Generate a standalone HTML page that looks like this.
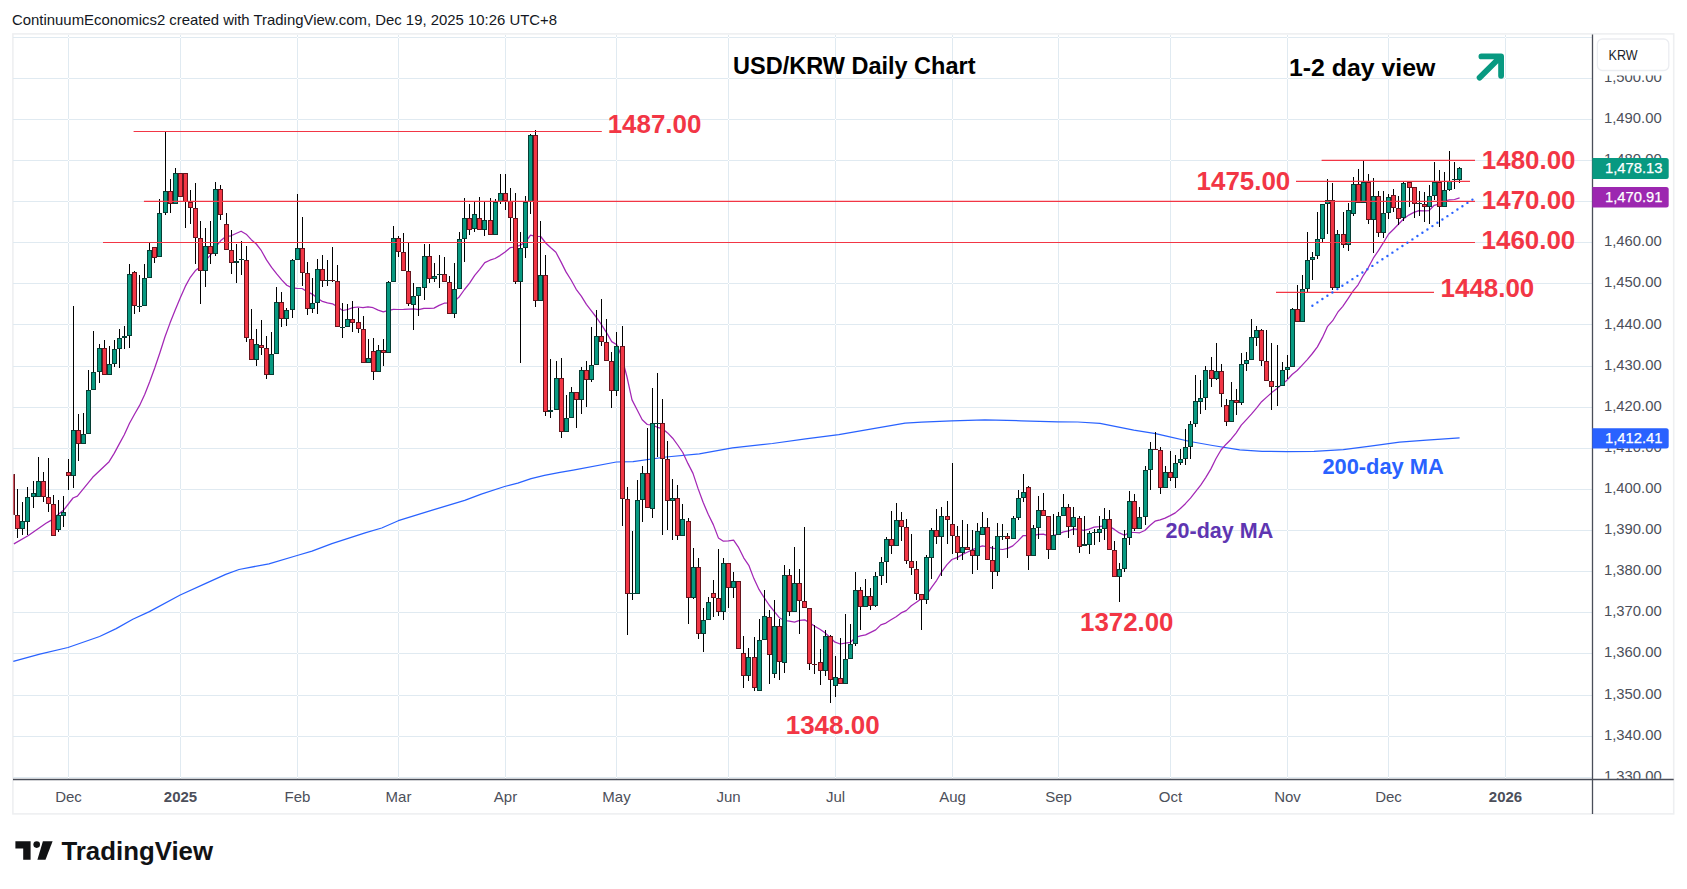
<!DOCTYPE html><html><head><meta charset="utf-8"><title>USD/KRW Daily Chart</title><style>html,body{margin:0;padding:0;background:#fff}body{width:1687px;height:889px;overflow:hidden}svg{display:block}text{font-family:"Liberation Sans",sans-serif}.b{font-weight:bold}</style></head><body>
<svg width="1687" height="889" viewBox="0 0 1687 889">
<rect width="1687" height="889" fill="#fff"/>
<text x="12" y="25" font-size="15" fill="#131722" textLength="545" lengthAdjust="spacingAndGlyphs">ContinuumEconomics2 created with TradingView.com, Dec 19, 2025 10:26 UTC+8</text>
<rect x="12.9" y="33.9" width="1660.8" height="780.0" fill="#fff" stroke="#eeeff1" stroke-width="1.6"/>
<path d="M13 777h1579v1h-1579zM13 736h1579v1h-1579zM13 695h1579v1h-1579zM13 653h1579v1h-1579zM13 612h1579v1h-1579zM13 571h1579v1h-1579zM13 530h1579v1h-1579zM13 489h1579v1h-1579zM13 448h1579v1h-1579zM13 407h1579v1h-1579zM13 366h1579v1h-1579zM13 324h1579v1h-1579zM13 283h1579v1h-1579zM13 242h1579v1h-1579zM13 201h1579v1h-1579zM13 160h1579v1h-1579zM13 119h1579v1h-1579zM13 78h1579v1h-1579zM13 37h1579v1h-1579zM68 35v744h1v-744zM180 35v744h1v-744zM297 35v744h1v-744zM398 35v744h1v-744zM505 35v744h1v-744zM616 35v744h1v-744zM728 35v744h1v-744zM835 35v744h1v-744zM952 35v744h1v-744zM1058 35v744h1v-744zM1170 35v744h1v-744zM1287 35v744h1v-744zM1388 35v744h1v-744zM1505 35v744h1v-744z" fill="#e0eaf1"/>
<polyline points="13.3,661.4 39.8,654.1 68.0,647.5 99.6,636.5 116.2,628.6 132.8,619.3 149.4,611.6 180.2,595.0 205.8,583.4 225.7,574.4 239.0,569.5 268.9,563.8 297.1,555.5 312.0,551.2 331.9,543.6 365.1,532.9 381.7,528.0 398.3,520.7 431.5,510.4 464.7,500.4 481.3,494.1 504.6,486.5 517.8,483.2 531.1,478.6 544.4,475.3 560.0,472.3 573.2,470.1 616.3,462.0 633.0,461.7 666.1,457.0 699.3,453.8 732.5,447.8 772.4,443.5 805.6,438.8 838.8,434.6 871.9,428.8 905.1,423.2 921.7,422.2 951.6,420.8 984.8,419.8 1021.3,420.8 1057.8,421.8 1077.7,422.0 1100.0,423.4 1133.8,430.2 1155.6,433.7 1167.6,436.3 1190.1,441.5 1212.6,445.5 1239.7,449.8 1262.2,451.3 1287.0,451.6 1314.0,451.4 1343.3,449.6 1370.3,446.2 1399.6,442.1 1426.6,440.1 1459.6,437.8" fill="none" stroke="#2962ff" stroke-width="1.25" stroke-linejoin="round"/>
<polyline points="13.9,543.9 28.0,535.8 46.0,523.2 51.4,520.1 64.0,509.7 73.0,498.0 77.4,496.2 92.7,477.3 109.1,461.7 114.2,453.4 119.3,443.9 124.3,434.7 129.4,423.5 134.5,414.2 139.6,405.4 144.7,394.5 149.7,381.8 154.8,367.8 159.9,352.7 165.0,336.7 170.0,323.1 175.1,310.3 180.2,298.0 185.3,286.4 190.3,277.3 195.4,270.6 200.5,266.7 205.6,260.3 210.7,254.8 215.7,246.8 220.8,240.6 225.9,236.4 231.0,235.8 236.0,233.5 241.1,231.2 246.2,234.2 251.3,239.7 256.3,244.0 261.4,250.7 266.5,259.9 271.6,267.4 276.7,273.9 281.7,279.9 286.8,285.3 291.9,287.9 297.0,288.4 302.0,288.5 307.1,291.6 312.2,294.1 317.3,298.1 322.4,301.4 327.4,302.9 332.5,303.8 337.6,307.1 342.7,310.5 347.7,309.5 352.8,307.7 357.9,307.0 363.0,307.7 368.0,306.9 373.1,307.7 378.2,310.1 383.3,311.8 388.4,310.4 393.4,309.3 398.5,309.5 403.6,309.4 408.7,309.1 413.7,308.8 418.8,309.7 423.9,308.4 429.0,308.4 434.0,308.1 439.1,305.4 444.2,303.2 449.3,302.9 454.4,301.3 459.4,296.7 464.5,289.5 469.6,283.1 474.7,275.3 479.7,269.3 484.8,262.6 489.9,260.2 495.0,258.5 500.0,255.6 505.1,252.0 510.2,247.7 515.3,247.0 520.4,245.1 525.4,242.3 530.5,235.1 535.6,236.4 540.7,236.5 545.7,243.0 550.8,247.8 555.9,252.3 561.0,261.9 566.0,271.9 571.1,280.0 576.2,289.3 581.3,296.2 586.4,304.3 591.4,310.8 596.5,317.5 601.6,324.9 606.7,332.9 611.7,341.6 616.8,344.8 621.9,357.3 627.0,377.0 632.0,399.9 637.1,409.8 642.2,419.7 647.3,424.5 652.4,425.1 657.4,427.3 662.5,428.7 667.6,432.9 672.7,438.2 677.7,445.0 682.8,452.5 687.9,463.4 693.0,473.4 698.0,488.4 703.1,502.3 708.2,514.3 713.3,524.6 718.4,537.9 723.4,541.2 728.5,540.8 733.6,540.2 738.7,547.7 743.7,557.8 748.8,565.3 753.9,578.6 759.0,589.4 764.0,597.3 769.1,605.0 774.2,611.4 779.3,617.7 784.4,620.5 789.4,621.2 794.5,622.1 799.6,620.4 804.7,619.8 809.7,622.9 814.8,626.2 819.9,629.2 825.0,632.8 830.0,637.5 835.1,642.2 840.2,644.0 845.3,643.1 850.4,642.4 855.4,637.5 860.5,635.9 865.6,634.9 870.7,632.4 875.7,629.9 880.8,624.9 885.9,623.1 891.0,619.8 896.1,616.7 901.1,612.9 906.2,610.6 911.3,605.8 916.4,602.3 921.4,598.7 926.5,594.8 931.6,587.3 936.7,580.3 941.7,571.9 946.8,564.9 951.9,559.5 957.0,557.6 962.1,554.6 967.1,552.3 972.2,549.9 977.3,547.6 982.4,545.9 987.4,546.9 992.5,548.2 997.6,549.0 1002.7,549.5 1007.7,548.4 1012.8,545.9 1017.9,541.1 1023.0,535.7 1028.1,535.7 1033.1,535.6 1038.2,534.3 1043.3,534.2 1048.4,535.8 1053.4,535.7 1058.5,533.9 1063.6,531.9 1068.7,530.8 1073.7,528.8 1078.8,529.6 1083.9,530.4 1089.0,529.1 1094.1,527.1 1099.1,526.7 1104.2,525.9 1109.3,526.4 1114.4,529.4 1119.4,532.9 1124.5,535.2 1129.6,532.4 1134.7,532.5 1139.7,532.8 1144.8,530.5 1149.9,525.5 1155.0,521.2 1160.1,519.8 1165.1,518.1 1170.2,515.6 1175.3,512.9 1180.4,508.5 1185.4,503.7 1190.5,498.2 1195.6,491.7 1200.7,485.1 1205.7,477.6 1210.8,469.1 1215.9,458.8 1221.0,450.0 1226.1,444.2 1231.1,439.2 1236.2,432.8 1241.3,425.2 1246.4,419.6 1251.4,414.1 1256.5,408.1 1261.6,401.7 1266.7,397.1 1271.7,392.6 1276.8,388.7 1281.9,384.2 1287.0,380.2 1292.1,374.5 1297.1,370.5 1302.2,365.1 1307.3,359.6 1312.4,353.5 1317.4,346.9 1322.5,337.4 1327.6,326.3 1332.7,320.7 1337.8,312.2 1342.8,306.3 1347.9,298.8 1353.0,291.1 1358.1,284.8 1363.1,275.8 1368.2,267.8 1373.3,258.2 1378.4,250.6 1383.4,242.7 1388.5,234.2 1393.6,229.2 1398.7,224.0 1403.8,218.7 1408.8,215.1 1413.9,212.4 1419.0,210.6 1424.1,210.8 1429.1,210.6 1434.2,205.3 1439.3,204.0 1444.4,201.2 1449.4,199.8 1454.5,199.5 1459.6,197.8" fill="none" stroke="#a327b5" stroke-width="1.25" stroke-linejoin="round"/>
<clipPath id="cp"><rect x="13.5" y="34" width="1579" height="745"/></clipPath>
<g clip-path="url(#cp)" shape-rendering="crispEdges">
<path d="M12 474h1v41h-1zM17 489h1v49h-1zM22 502h1v33h-1zM27 487h1v48h-1zM33 481h1v27h-1zM38 457h1v40h-1zM43 472h1v30h-1zM48 458h1v54h-1zM53 495h1v41h-1zM58 500h1v32h-1zM63 496h1v31h-1zM68 459h1v31h-1zM73 306h1v182h-1zM78 414h1v47h-1zM83 413h1v31h-1zM88 370h1v64h-1zM93 331h1v59h-1zM99 344h1v39h-1zM104 340h1v35h-1zM109 346h1v29h-1zM114 340h1v27h-1zM119 329h1v39h-1zM124 326h1v23h-1zM129 264h1v84h-1zM134 271h1v43h-1zM139 275h1v37h-1zM144 264h1v42h-1zM149 243h1v35h-1zM154 247h1v16h-1zM159 199h1v58h-1zM165 131h1v84h-1zM170 179h1v34h-1zM175 168h1v36h-1zM180 173h1v24h-1zM185 173h1v55h-1zM190 190h1v34h-1zM195 183h1v81h-1zM200 221h1v83h-1zM205 228h1v59h-1zM210 221h1v43h-1zM215 182h1v74h-1zM220 185h1v35h-1zM226 213h1v37h-1zM231 230h1v44h-1zM236 244h1v39h-1zM241 241h1v34h-1zM246 246h1v96h-1zM251 309h1v51h-1zM256 329h1v37h-1zM261 320h1v35h-1zM266 336h1v43h-1zM271 332h1v43h-1zM276 287h1v67h-1zM281 292h1v35h-1zM286 308h1v18h-1zM292 259h1v59h-1zM297 194h1v66h-1zM302 217h1v69h-1zM307 262h1v53h-1zM312 278h1v35h-1zM317 259h1v55h-1zM322 255h1v32h-1zM327 260h1v26h-1zM332 247h1v35h-1zM337 265h1v62h-1zM342 303h1v35h-1zM347 304h1v23h-1zM352 301h1v31h-1zM358 308h1v25h-1zM363 316h1v47h-1zM368 339h1v24h-1zM373 338h1v42h-1zM378 345h1v27h-1zM383 339h1v27h-1zM388 281h1v72h-1zM393 226h1v56h-1zM398 236h1v21h-1zM403 233h1v38h-1zM408 243h1v63h-1zM413 283h1v47h-1zM418 287h1v29h-1zM424 244h1v56h-1zM429 244h1v39h-1zM434 263h1v19h-1zM439 255h1v33h-1zM444 257h1v25h-1zM449 276h1v38h-1zM454 263h1v55h-1zM459 232h1v57h-1zM464 198h1v64h-1zM469 204h1v31h-1zM474 202h1v30h-1zM479 197h1v33h-1zM484 202h1v34h-1zM490 198h1v37h-1zM495 199h1v36h-1zM500 174h1v30h-1zM505 174h1v36h-1zM510 188h1v53h-1zM515 193h1v91h-1zM520 232h1v131h-1zM525 196h1v62h-1zM530 134h1v80h-1zM535 130h1v177h-1zM540 221h1v80h-1zM545 255h1v161h-1zM550 359h1v59h-1zM556 361h1v49h-1zM561 358h1v80h-1zM566 395h1v37h-1zM571 387h1v31h-1zM576 392h1v36h-1zM581 367h1v47h-1zM586 361h1v46h-1zM591 327h1v55h-1zM596 310h1v55h-1zM601 299h1v47h-1zM606 319h1v42h-1zM611 352h1v56h-1zM616 332h1v64h-1zM622 326h1v200h-1zM627 487h1v148h-1zM632 531h1v69h-1zM637 480h1v114h-1zM642 466h1v56h-1zM647 428h1v80h-1zM652 388h1v130h-1zM657 373h1v84h-1zM662 399h1v136h-1zM667 441h1v89h-1zM672 479h1v61h-1zM677 485h1v55h-1zM682 504h1v32h-1zM688 518h1v106h-1zM693 548h1v51h-1zM698 558h1v81h-1zM703 608h1v44h-1zM708 597h1v23h-1zM713 580h1v37h-1zM718 549h1v67h-1zM723 558h1v62h-1zM728 563h1v45h-1zM733 572h1v26h-1zM738 581h1v68h-1zM743 636h1v52h-1zM748 648h1v33h-1zM754 637h1v54h-1zM759 619h1v72h-1zM764 590h1v50h-1zM769 610h1v74h-1zM774 600h1v78h-1zM779 619h1v61h-1zM784 565h1v108h-1zM789 569h1v47h-1zM794 547h1v65h-1zM799 569h1v65h-1zM804 527h1v81h-1zM809 608h1v62h-1zM814 625h1v49h-1zM820 649h1v36h-1zM825 630h1v46h-1zM830 635h1v68h-1zM835 656h1v41h-1zM840 638h1v46h-1zM845 614h1v70h-1zM850 624h1v35h-1zM855 572h1v74h-1zM860 587h1v43h-1zM865 579h1v28h-1zM870 588h1v22h-1zM875 572h1v35h-1zM881 557h1v28h-1zM886 537h1v46h-1zM891 511h1v43h-1zM896 503h1v43h-1zM901 512h1v29h-1zM906 519h1v45h-1zM911 534h1v41h-1zM916 561h1v39h-1zM921 594h1v36h-1zM926 555h1v49h-1zM931 528h1v51h-1zM936 509h1v35h-1zM941 507h1v69h-1zM947 501h1v43h-1zM952 463h1v91h-1zM957 526h1v34h-1zM962 520h1v40h-1zM967 524h1v26h-1zM972 530h1v44h-1zM977 523h1v47h-1zM982 512h1v23h-1zM987 518h1v42h-1zM992 546h1v43h-1zM997 523h1v53h-1zM1002 524h1v16h-1zM1007 533h1v25h-1zM1013 516h1v23h-1zM1018 490h1v30h-1zM1023 474h1v28h-1zM1028 486h1v84h-1zM1033 525h1v31h-1zM1038 496h1v43h-1zM1043 493h1v23h-1zM1048 516h1v43h-1zM1053 514h1v36h-1zM1058 512h1v23h-1zM1063 494h1v22h-1zM1068 504h1v34h-1zM1073 507h1v28h-1zM1079 516h1v37h-1zM1084 516h1v30h-1zM1089 531h1v23h-1zM1094 529h1v16h-1zM1099 516h1v26h-1zM1104 508h1v32h-1zM1109 510h1v40h-1zM1114 541h1v36h-1zM1119 563h1v39h-1zM1124 530h1v42h-1zM1129 491h1v54h-1zM1134 494h1v37h-1zM1139 507h1v22h-1zM1145 466h1v59h-1zM1150 442h1v48h-1zM1155 432h1v18h-1zM1160 447h1v47h-1zM1165 466h1v22h-1zM1170 451h1v30h-1zM1175 455h1v33h-1zM1180 449h1v16h-1zM1185 429h1v36h-1zM1190 421h1v38h-1zM1195 375h1v52h-1zM1200 380h1v34h-1zM1205 366h1v44h-1zM1211 357h1v30h-1zM1216 343h1v37h-1zM1221 364h1v43h-1zM1226 399h1v27h-1zM1231 382h1v40h-1zM1236 389h1v26h-1zM1241 353h1v52h-1zM1246 352h1v19h-1zM1251 319h1v41h-1zM1256 326h1v20h-1zM1261 329h1v37h-1zM1266 330h1v51h-1zM1271 343h1v67h-1zM1277 345h1v61h-1zM1282 362h1v24h-1zM1287 355h1v24h-1zM1292 308h1v59h-1zM1297 285h1v37h-1zM1302 275h1v47h-1zM1307 232h1v60h-1zM1312 252h1v28h-1zM1317 212h1v47h-1zM1322 204h1v38h-1zM1327 179h1v55h-1zM1332 183h1v107h-1zM1337 230h1v60h-1zM1343 212h1v36h-1zM1348 203h1v48h-1zM1353 177h1v39h-1zM1358 169h1v34h-1zM1363 161h1v42h-1zM1368 174h1v50h-1zM1373 178h1v75h-1zM1378 191h1v46h-1zM1383 191h1v47h-1zM1388 194h1v25h-1zM1393 189h1v23h-1zM1398 196h1v29h-1zM1403 182h1v39h-1zM1409 182h1v25h-1zM1414 187h1v31h-1zM1419 191h1v25h-1zM1424 192h1v30h-1zM1429 185h1v39h-1zM1434 162h1v38h-1zM1439 170h1v57h-1zM1444 172h1v35h-1zM1449 151h1v40h-1zM1454 162h1v27h-1zM1459 167h1v16h-1z" fill="#000"/>
<path d="M20 521h5v8h-5zM25 497h5v25h-5zM31 493h5v4h-5zM36 481h5v16h-5zM56 515h5v15h-5zM61 512h5v4h-5zM71 430h5v46h-5zM81 434h5v10h-5zM86 390h5v44h-5zM91 372h5v18h-5zM97 348h5v24h-5zM107 364h5v11h-5zM112 349h5v15h-5zM117 338h5v11h-5zM122 336h5v2h-5zM127 274h5v62h-5zM137 306h5v1h-5zM142 278h5v28h-5zM147 250h5v28h-5zM157 213h5v44h-5zM163 191h5v22h-5zM173 173h5v31h-5zM203 246h5v25h-5zM213 189h5v65h-5zM234 261h5v2h-5zM239 259h5v1h-5zM254 344h5v16h-5zM269 354h5v21h-5zM274 302h5v52h-5zM284 310h5v9h-5zM290 260h5v50h-5zM295 248h5v12h-5zM310 303h5v6h-5zM315 269h5v34h-5zM325 280h5v1h-5zM340 327h5v1h-5zM345 319h5v8h-5zM366 358h5v5h-5zM376 350h5v22h-5zM386 282h5v71h-5zM391 238h5v44h-5zM411 296h5v9h-5zM416 287h5v9h-5zM422 256h5v32h-5zM432 276h5v3h-5zM437 274h5v1h-5zM452 289h5v25h-5zM457 239h5v50h-5zM462 218h5v21h-5zM472 214h5v15h-5zM482 220h5v10h-5zM493 202h5v33h-5zM498 193h5v9h-5zM518 248h5v34h-5zM523 202h5v46h-5zM528 135h5v67h-5zM538 275h5v26h-5zM548 410h5v2h-5zM554 378h5v32h-5zM564 418h5v14h-5zM569 392h5v26h-5zM579 370h5v30h-5zM589 365h5v15h-5zM594 336h5v29h-5zM614 346h5v45h-5zM630 593h5v1h-5zM635 500h5v94h-5zM640 473h5v27h-5zM650 423h5v86h-5zM655 423h5v1h-5zM670 498h5v3h-5zM680 519h5v17h-5zM691 567h5v31h-5zM701 620h5v14h-5zM706 602h5v18h-5zM721 563h5v49h-5zM731 581h5v7h-5zM746 657h5v19h-5zM757 640h5v51h-5zM762 616h5v24h-5zM772 626h5v48h-5zM782 575h5v88h-5zM792 583h5v29h-5zM823 636h5v35h-5zM833 677h5v9h-5zM843 659h5v25h-5zM848 644h5v15h-5zM853 590h5v54h-5zM863 596h5v11h-5zM873 576h5v30h-5zM879 562h5v14h-5zM884 539h5v23h-5zM894 520h5v26h-5zM924 557h5v43h-5zM929 530h5v28h-5zM939 516h5v21h-5zM960 547h5v6h-5zM975 531h5v25h-5zM980 527h5v8h-5zM995 536h5v36h-5zM1000 536h5v1h-5zM1011 518h5v21h-5zM1016 498h5v20h-5zM1021 492h5v6h-5zM1031 528h5v28h-5zM1036 510h5v18h-5zM1051 535h5v15h-5zM1056 516h5v19h-5zM1061 507h5v9h-5zM1071 517h5v10h-5zM1082 544h5v2h-5zM1087 533h5v12h-5zM1092 532h5v1h-5zM1097 529h5v4h-5zM1102 519h5v10h-5zM1117 569h5v8h-5zM1122 538h5v31h-5zM1127 501h5v37h-5zM1137 517h5v12h-5zM1143 470h5v47h-5zM1148 449h5v21h-5zM1163 472h5v16h-5zM1173 463h5v15h-5zM1178 459h5v4h-5zM1183 447h5v12h-5zM1188 424h5v23h-5zM1193 401h5v23h-5zM1198 398h5v4h-5zM1203 370h5v28h-5zM1214 371h5v8h-5zM1229 400h5v22h-5zM1239 364h5v39h-5zM1244 360h5v4h-5zM1249 337h5v23h-5zM1254 330h5v8h-5zM1275 386h5v1h-5zM1280 370h5v16h-5zM1285 367h5v3h-5zM1290 309h5v58h-5zM1300 289h5v33h-5zM1305 260h5v29h-5zM1310 257h5v3h-5zM1315 239h5v17h-5zM1320 204h5v35h-5zM1325 200h5v4h-5zM1335 234h5v54h-5zM1346 210h5v35h-5zM1351 184h5v30h-5zM1361 182h5v21h-5zM1371 196h5v24h-5zM1381 213h5v20h-5zM1386 197h5v16h-5zM1401 183h5v35h-5zM1417 203h5v1h-5zM1427 196h5v11h-5zM1432 182h5v14h-5zM1442 190h5v17h-5zM1447 181h5v9h-5zM1452 179h5v1h-5zM1457 168h5v12h-5z" fill="#063d33"/><path d="M10 474h5v41h-5zM15 515h5v14h-5zM41 481h5v16h-5zM46 497h5v7h-5zM51 504h5v32h-5zM66 472h5v4h-5zM76 430h5v14h-5zM102 348h5v27h-5zM132 272h5v34h-5zM152 247h5v11h-5zM168 191h5v13h-5zM178 173h5v24h-5zM183 173h5v29h-5zM188 202h5v6h-5zM193 208h5v30h-5zM198 238h5v33h-5zM208 246h5v8h-5zM218 189h5v26h-5zM224 224h5v26h-5zM229 250h5v13h-5zM244 260h5v78h-5zM249 339h5v21h-5zM259 345h5v3h-5zM264 348h5v27h-5zM279 302h5v17h-5zM300 248h5v25h-5zM305 273h5v36h-5zM320 269h5v12h-5zM330 280h5v1h-5zM335 281h5v46h-5zM350 319h5v4h-5zM356 322h5v7h-5zM361 329h5v34h-5zM371 351h5v21h-5zM381 350h5v3h-5zM396 238h5v14h-5zM401 252h5v19h-5zM406 271h5v33h-5zM427 256h5v23h-5zM442 274h5v8h-5zM447 282h5v32h-5zM467 218h5v12h-5zM477 218h5v12h-5zM488 220h5v15h-5zM503 193h5v8h-5zM508 201h5v17h-5zM513 218h5v64h-5zM533 135h5v166h-5zM543 275h5v137h-5zM559 378h5v54h-5zM574 392h5v8h-5zM584 370h5v10h-5zM599 336h5v6h-5zM604 342h5v19h-5zM609 361h5v30h-5zM620 346h5v153h-5zM625 499h5v95h-5zM645 473h5v35h-5zM660 423h5v36h-5zM665 459h5v42h-5zM675 498h5v38h-5zM686 521h5v77h-5zM696 567h5v67h-5zM711 593h5v5h-5zM716 598h5v14h-5zM726 563h5v25h-5zM736 581h5v68h-5zM741 653h5v23h-5zM752 657h5v31h-5zM767 617h5v38h-5zM777 626h5v36h-5zM787 575h5v37h-5zM797 583h5v18h-5zM802 601h5v7h-5zM807 608h5v56h-5zM812 664h5v1h-5zM818 662h5v9h-5zM828 636h5v44h-5zM838 678h5v6h-5zM858 590h5v17h-5zM868 596h5v10h-5zM889 539h5v7h-5zM899 520h5v7h-5zM904 527h5v34h-5zM909 561h5v7h-5zM914 569h5v25h-5zM919 594h5v6h-5zM934 530h5v7h-5zM945 516h5v4h-5zM950 524h5v12h-5zM955 536h5v17h-5zM965 547h5v3h-5zM970 550h5v6h-5zM985 527h5v33h-5zM990 560h5v12h-5zM1005 536h5v3h-5zM1026 487h5v69h-5zM1041 510h5v6h-5zM1046 516h5v34h-5zM1066 507h5v20h-5zM1077 518h5v29h-5zM1107 519h5v31h-5zM1112 550h5v27h-5zM1132 501h5v28h-5zM1153 449h5v1h-5zM1158 450h5v38h-5zM1168 472h5v6h-5zM1209 370h5v9h-5zM1219 371h5v23h-5zM1224 405h5v17h-5zM1234 400h5v3h-5zM1259 330h5v31h-5zM1264 361h5v20h-5zM1269 381h5v6h-5zM1295 309h5v13h-5zM1330 200h5v88h-5zM1341 234h5v11h-5zM1356 184h5v19h-5zM1366 182h5v38h-5zM1376 196h5v37h-5zM1391 195h5v13h-5zM1396 208h5v11h-5zM1407 182h5v6h-5zM1412 187h5v17h-5zM1422 204h5v3h-5zM1437 182h5v25h-5z" fill="#66141d"/>
<path d="M21 522h3v6h-3zM26 498h3v23h-3zM32 494h3v2h-3zM37 482h3v14h-3zM57 516h3v13h-3zM62 513h3v2h-3zM72 431h3v44h-3zM82 435h3v8h-3zM87 391h3v42h-3zM92 373h3v16h-3zM98 349h3v22h-3zM108 365h3v9h-3zM113 350h3v13h-3zM118 339h3v9h-3zM128 275h3v60h-3zM143 279h3v26h-3zM148 251h3v26h-3zM158 214h3v42h-3zM164 192h3v20h-3zM174 174h3v29h-3zM204 247h3v23h-3zM214 190h3v63h-3zM255 345h3v14h-3zM270 355h3v19h-3zM275 303h3v50h-3zM285 311h3v7h-3zM291 261h3v48h-3zM296 249h3v10h-3zM311 304h3v4h-3zM316 270h3v32h-3zM346 320h3v6h-3zM367 359h3v3h-3zM377 351h3v20h-3zM387 283h3v69h-3zM392 239h3v42h-3zM412 297h3v7h-3zM417 288h3v7h-3zM423 257h3v30h-3zM433 277h3v1h-3zM453 290h3v23h-3zM458 240h3v48h-3zM463 219h3v19h-3zM473 215h3v13h-3zM483 221h3v8h-3zM494 203h3v31h-3zM499 194h3v7h-3zM519 249h3v32h-3zM524 203h3v44h-3zM529 136h3v65h-3zM539 276h3v24h-3zM555 379h3v30h-3zM565 419h3v12h-3zM570 393h3v24h-3zM580 371h3v28h-3zM590 366h3v13h-3zM595 337h3v27h-3zM615 347h3v43h-3zM636 501h3v92h-3zM641 474h3v25h-3zM651 424h3v84h-3zM671 499h3v1h-3zM681 520h3v15h-3zM692 568h3v29h-3zM702 621h3v12h-3zM707 603h3v16h-3zM722 564h3v47h-3zM732 582h3v5h-3zM747 658h3v17h-3zM758 641h3v49h-3zM763 617h3v22h-3zM773 627h3v46h-3zM783 576h3v86h-3zM793 584h3v27h-3zM824 637h3v33h-3zM834 678h3v7h-3zM844 660h3v23h-3zM849 645h3v13h-3zM854 591h3v52h-3zM864 597h3v9h-3zM874 577h3v28h-3zM880 563h3v12h-3zM885 540h3v21h-3zM895 521h3v24h-3zM925 558h3v41h-3zM930 531h3v26h-3zM940 517h3v19h-3zM961 548h3v4h-3zM976 532h3v23h-3zM981 528h3v6h-3zM996 537h3v34h-3zM1012 519h3v19h-3zM1017 499h3v18h-3zM1022 493h3v4h-3zM1032 529h3v26h-3zM1037 511h3v16h-3zM1052 536h3v13h-3zM1057 517h3v17h-3zM1062 508h3v7h-3zM1072 518h3v8h-3zM1088 534h3v10h-3zM1098 530h3v2h-3zM1103 520h3v8h-3zM1118 570h3v6h-3zM1123 539h3v29h-3zM1128 502h3v35h-3zM1138 518h3v10h-3zM1144 471h3v45h-3zM1149 450h3v19h-3zM1164 473h3v14h-3zM1174 464h3v13h-3zM1179 460h3v2h-3zM1184 448h3v10h-3zM1189 425h3v21h-3zM1194 402h3v21h-3zM1199 399h3v2h-3zM1204 371h3v26h-3zM1215 372h3v6h-3zM1230 401h3v20h-3zM1240 365h3v37h-3zM1245 361h3v2h-3zM1250 338h3v21h-3zM1255 331h3v6h-3zM1281 371h3v14h-3zM1286 368h3v1h-3zM1291 310h3v56h-3zM1301 290h3v31h-3zM1306 261h3v27h-3zM1311 258h3v1h-3zM1316 240h3v15h-3zM1321 205h3v33h-3zM1326 201h3v2h-3zM1336 235h3v52h-3zM1347 211h3v33h-3zM1352 185h3v28h-3zM1362 183h3v19h-3zM1372 197h3v22h-3zM1382 214h3v18h-3zM1387 198h3v14h-3zM1402 184h3v33h-3zM1428 197h3v9h-3zM1433 183h3v12h-3zM1443 191h3v15h-3zM1448 182h3v7h-3zM1458 169h3v10h-3z" fill="#089981"/><path d="M11 475h3v39h-3zM16 516h3v12h-3zM42 482h3v14h-3zM47 498h3v5h-3zM52 505h3v30h-3zM67 473h3v2h-3zM77 431h3v12h-3zM103 349h3v25h-3zM133 273h3v32h-3zM153 248h3v9h-3zM169 192h3v11h-3zM179 174h3v22h-3zM184 174h3v27h-3zM189 203h3v4h-3zM194 209h3v28h-3zM199 239h3v31h-3zM209 247h3v6h-3zM219 190h3v24h-3zM225 225h3v24h-3zM230 251h3v11h-3zM245 261h3v76h-3zM250 340h3v19h-3zM260 346h3v1h-3zM265 349h3v25h-3zM280 303h3v15h-3zM301 249h3v23h-3zM306 274h3v34h-3zM321 270h3v10h-3zM336 282h3v44h-3zM351 320h3v2h-3zM357 323h3v5h-3zM362 330h3v32h-3zM372 352h3v19h-3zM382 351h3v1h-3zM397 239h3v12h-3zM402 253h3v17h-3zM407 272h3v31h-3zM428 257h3v21h-3zM443 275h3v6h-3zM448 283h3v30h-3zM468 219h3v10h-3zM478 219h3v10h-3zM489 221h3v13h-3zM504 194h3v6h-3zM509 202h3v15h-3zM514 219h3v62h-3zM534 136h3v164h-3zM544 276h3v135h-3zM560 379h3v52h-3zM575 393h3v6h-3zM585 371h3v8h-3zM600 337h3v4h-3zM605 343h3v17h-3zM610 362h3v28h-3zM621 347h3v151h-3zM626 500h3v93h-3zM646 474h3v33h-3zM661 424h3v34h-3zM666 460h3v40h-3zM676 499h3v36h-3zM687 522h3v75h-3zM697 568h3v65h-3zM712 594h3v3h-3zM717 599h3v12h-3zM727 564h3v23h-3zM737 582h3v66h-3zM742 654h3v21h-3zM753 658h3v29h-3zM768 618h3v36h-3zM778 627h3v34h-3zM788 576h3v35h-3zM798 584h3v16h-3zM803 602h3v5h-3zM808 609h3v54h-3zM819 663h3v7h-3zM829 637h3v42h-3zM839 679h3v4h-3zM859 591h3v15h-3zM869 597h3v8h-3zM890 540h3v5h-3zM900 521h3v5h-3zM905 528h3v32h-3zM910 562h3v5h-3zM915 570h3v23h-3zM920 595h3v4h-3zM935 531h3v5h-3zM946 517h3v2h-3zM951 525h3v10h-3zM956 537h3v15h-3zM966 548h3v1h-3zM971 551h3v4h-3zM986 528h3v31h-3zM991 561h3v10h-3zM1006 537h3v1h-3zM1027 488h3v67h-3zM1042 511h3v4h-3zM1047 517h3v32h-3zM1067 508h3v18h-3zM1078 519h3v27h-3zM1108 520h3v29h-3zM1113 551h3v25h-3zM1133 502h3v26h-3zM1159 451h3v36h-3zM1169 473h3v4h-3zM1210 371h3v7h-3zM1220 372h3v21h-3zM1225 406h3v15h-3zM1235 401h3v1h-3zM1260 331h3v29h-3zM1265 362h3v18h-3zM1270 382h3v4h-3zM1296 310h3v11h-3zM1331 201h3v86h-3zM1342 235h3v9h-3zM1357 185h3v17h-3zM1367 183h3v36h-3zM1377 197h3v35h-3zM1392 196h3v11h-3zM1397 209h3v9h-3zM1408 183h3v4h-3zM1413 188h3v15h-3zM1423 205h3v1h-3zM1438 183h3v23h-3z" fill="#f23645"/>
</g>
<path d="M133.6 131.5H601.8M143.9 201.4H1475M103 242.5H1475M1321.6 160.3H1475M1296 181.3H1470M1276 292.3H1434" stroke="#f23645" stroke-width="1.15" fill="none"/>
<line x1="1312.4" y1="305.7" x2="1472.7" y2="199.4" stroke="#2962ff" stroke-width="2.4" stroke-linecap="round" stroke-dasharray="0 6.0"/>
<path d="M13 779.5H1673.7M1592.5 34.5V813.9" stroke="#4a4e59" stroke-width="1.3" fill="none"/>
<text class="b" x="733" y="74.3" font-size="23.7" fill="#000" textLength="242.5" lengthAdjust="spacingAndGlyphs">USD/KRW Daily Chart</text>
<text class="b" x="1288.9" y="75.7" font-size="24.7" fill="#000" textLength="146.5" lengthAdjust="spacingAndGlyphs">1-2 day view</text>
<text class="b" x="607.7" y="133" font-size="25" fill="#f23645" textLength="93.7" lengthAdjust="spacingAndGlyphs">1487.00</text>
<text class="b" x="1481.8" y="169.1" font-size="25" fill="#f23645" textLength="93.7" lengthAdjust="spacingAndGlyphs">1480.00</text>
<text class="b" x="1196.6" y="190" font-size="25" fill="#f23645" textLength="93.7" lengthAdjust="spacingAndGlyphs">1475.00</text>
<text class="b" x="1481.8" y="209.2" font-size="25" fill="#f23645" textLength="93.7" lengthAdjust="spacingAndGlyphs">1470.00</text>
<text class="b" x="1481.6" y="248.9" font-size="25" fill="#f23645" textLength="93.7" lengthAdjust="spacingAndGlyphs">1460.00</text>
<text class="b" x="1440.6" y="297" font-size="25" fill="#f23645" textLength="93.7" lengthAdjust="spacingAndGlyphs">1448.00</text>
<text class="b" x="1080" y="631.1" font-size="25" fill="#f23645" textLength="93.5" lengthAdjust="spacingAndGlyphs">1372.00</text>
<text class="b" x="785.7" y="734" font-size="25" fill="#f23645" textLength="93.9" lengthAdjust="spacingAndGlyphs">1348.00</text>
<text class="b" x="1322.4" y="473.9" font-size="22" fill="#2962ff" textLength="121.4" lengthAdjust="spacingAndGlyphs">200-day MA</text>
<text class="b" x="1165.6" y="537.75" font-size="21.8" fill="#5e35b1" textLength="107.7" lengthAdjust="spacingAndGlyphs">20-day MA</text>
<path d="M1479.6 77.6L1500.9 56.5M1481.4 56.4H1501.1V75.8" stroke="#089981" stroke-width="5.8" fill="none" stroke-linecap="round" stroke-linejoin="round"/>
<clipPath id="ap"><rect x="1594" y="75.6" width="79" height="703.2"/></clipPath><g clip-path="url(#ap)">
<text x="1604" y="780.7" font-size="15" fill="#4c4f5a" textLength="57.7" lengthAdjust="spacingAndGlyphs">1,330.00</text>
<text x="1604" y="739.6" font-size="15" fill="#4c4f5a" textLength="57.7" lengthAdjust="spacingAndGlyphs">1,340.00</text>
<text x="1604" y="698.5" font-size="15" fill="#4c4f5a" textLength="57.7" lengthAdjust="spacingAndGlyphs">1,350.00</text>
<text x="1604" y="657.4" font-size="15" fill="#4c4f5a" textLength="57.7" lengthAdjust="spacingAndGlyphs">1,360.00</text>
<text x="1604" y="616.3" font-size="15" fill="#4c4f5a" textLength="57.7" lengthAdjust="spacingAndGlyphs">1,370.00</text>
<text x="1604" y="575.2" font-size="15" fill="#4c4f5a" textLength="57.7" lengthAdjust="spacingAndGlyphs">1,380.00</text>
<text x="1604" y="534.0" font-size="15" fill="#4c4f5a" textLength="57.7" lengthAdjust="spacingAndGlyphs">1,390.00</text>
<text x="1604" y="492.9" font-size="15" fill="#4c4f5a" textLength="57.7" lengthAdjust="spacingAndGlyphs">1,400.00</text>
<text x="1604" y="451.8" font-size="15" fill="#4c4f5a" textLength="57.7" lengthAdjust="spacingAndGlyphs">1,410.00</text>
<text x="1604" y="410.7" font-size="15" fill="#4c4f5a" textLength="57.7" lengthAdjust="spacingAndGlyphs">1,420.00</text>
<text x="1604" y="369.6" font-size="15" fill="#4c4f5a" textLength="57.7" lengthAdjust="spacingAndGlyphs">1,430.00</text>
<text x="1604" y="328.5" font-size="15" fill="#4c4f5a" textLength="57.7" lengthAdjust="spacingAndGlyphs">1,440.00</text>
<text x="1604" y="287.4" font-size="15" fill="#4c4f5a" textLength="57.7" lengthAdjust="spacingAndGlyphs">1,450.00</text>
<text x="1604" y="246.3" font-size="15" fill="#4c4f5a" textLength="57.7" lengthAdjust="spacingAndGlyphs">1,460.00</text>
<text x="1604" y="205.2" font-size="15" fill="#4c4f5a" textLength="57.7" lengthAdjust="spacingAndGlyphs">1,470.00</text>
<text x="1604" y="164.1" font-size="15" fill="#4c4f5a" textLength="57.7" lengthAdjust="spacingAndGlyphs">1,480.00</text>
<text x="1604" y="122.9" font-size="15" fill="#4c4f5a" textLength="57.7" lengthAdjust="spacingAndGlyphs">1,490.00</text>
<text x="1604" y="81.8" font-size="15" fill="#4c4f5a" textLength="57.7" lengthAdjust="spacingAndGlyphs">1,500.00</text>
</g>
<rect x="1597.4" y="39" width="71.4" height="31.5" rx="5" fill="#fff" stroke="#ebedf1" stroke-width="1.3"/>
<text x="1608.6" y="59.8" font-size="15" fill="#1c1f2a" textLength="29" lengthAdjust="spacingAndGlyphs">KRW</text>
<path d="M1592.3 158H1666.2a2.5 2.5 0 0 1 2.5 2.5V176.4a2.5 2.5 0 0 1 -2.5 2.5H1592.3Z" fill="#089981"/>
<text x="1605" y="172.8" font-size="15" fill="#fff" stroke="#fff" stroke-width="0.25" textLength="57.5" lengthAdjust="spacingAndGlyphs">1,478.13</text>
<path d="M1592.3 187.1H1666.2a2.5 2.5 0 0 1 2.5 2.5V205.1a2.5 2.5 0 0 1 -2.5 2.5H1592.3Z" fill="#9c27b0"/>
<text x="1605" y="201.7" font-size="15" fill="#fff" stroke="#fff" stroke-width="0.25" textLength="57.5" lengthAdjust="spacingAndGlyphs">1,470.91</text>
<path d="M1592.3 428.2H1666.2a2.5 2.5 0 0 1 2.5 2.5V445.9a2.5 2.5 0 0 1 -2.5 2.5H1592.3Z" fill="#2962ff"/>
<text x="1605" y="442.6" font-size="15" fill="#fff" stroke="#fff" stroke-width="0.25" textLength="57.5" lengthAdjust="spacingAndGlyphs">1,412.41</text>
<text x="68.5" y="802" font-size="15" text-anchor="middle" fill="#4c4f5a">Dec</text>
<text x="180.5" y="802" font-size="15" text-anchor="middle" fill="#4c4f5a" font-weight="bold">2025</text>
<text x="297.5" y="802" font-size="15" text-anchor="middle" fill="#4c4f5a">Feb</text>
<text x="398.5" y="802" font-size="15" text-anchor="middle" fill="#4c4f5a">Mar</text>
<text x="505.5" y="802" font-size="15" text-anchor="middle" fill="#4c4f5a">Apr</text>
<text x="616.5" y="802" font-size="15" text-anchor="middle" fill="#4c4f5a">May</text>
<text x="728.5" y="802" font-size="15" text-anchor="middle" fill="#4c4f5a">Jun</text>
<text x="835.5" y="802" font-size="15" text-anchor="middle" fill="#4c4f5a">Jul</text>
<text x="952.5" y="802" font-size="15" text-anchor="middle" fill="#4c4f5a">Aug</text>
<text x="1058.5" y="802" font-size="15" text-anchor="middle" fill="#4c4f5a">Sep</text>
<text x="1170.5" y="802" font-size="15" text-anchor="middle" fill="#4c4f5a">Oct</text>
<text x="1287.5" y="802" font-size="15" text-anchor="middle" fill="#4c4f5a">Nov</text>
<text x="1388.5" y="802" font-size="15" text-anchor="middle" fill="#4c4f5a">Dec</text>
<text x="1505.5" y="802" font-size="15" text-anchor="middle" fill="#4c4f5a" font-weight="bold">2026</text>
<g fill="#111214"><path d="M15.4 841.3H30.6V859.8H23.2V848.4H15.4Z"/><circle cx="36.7" cy="844.6" r="3.3"/><path d="M42.9 841.3H52.6L45.5 859.8H37.4Z"/></g>
<text x="61.5" y="859.8" font-size="25.5" font-weight="bold" fill="#111214" textLength="151.5" lengthAdjust="spacingAndGlyphs">TradingView</text>
</svg></body></html>
